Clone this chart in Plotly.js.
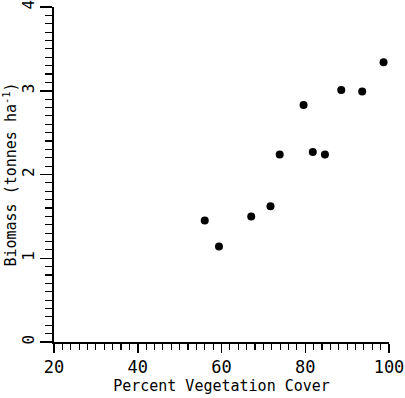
<!DOCTYPE html>
<html><head><meta charset="utf-8">
<script src="https://cdn.plot.ly/plotly-3.0.1.min.js"></script>
<style>html,body{margin:0;padding:0;background:#fff;}#chart{width:405px;height:398px;}</style>
</head><body><div id="chart"></div>
<script>
const cover = [56.0, 59.4, 67.1, 71.7, 73.9, 79.6, 81.8, 84.7, 88.6, 93.6, 98.7];
const biomass = [1.45, 1.14, 1.50, 1.62, 2.24, 2.83, 2.27, 2.24, 3.01, 2.99, 3.34];
const xTickVals = [20, 40, 60, 80, 100];
const yTickVals = [0, 1, 2, 3, 4];

const fontFam = 'DejaVu Sans Mono, monospace';
Plotly.newPlot('chart', [{
  x: cover, y: biomass, type: 'scatter', mode: 'markers',
  marker: {color: '#000', size: 8, symbol: 'circle'},
  hoverinfo: 'skip', cliponaxis: false
}], {
  width: 405, height: 398,
  margin: {l: 54, r: 16, t: 7, b: 56},
  paper_bgcolor: '#fff', plot_bgcolor: '#fff',
  showlegend: false,
  font: {family: fontFam, color: '#000', size: 15},
  xaxis: {
    range: [20, 100], tickvals: xTickVals, ticktext: xTickVals.map(String),
    showgrid: false, zeroline: false, showline: true, linecolor: '#000', linewidth: 2,
    ticks: 'outside', ticklen: 9, tickwidth: 1.5, tickcolor: '#000',
    tickfont: {size: 17, family: fontFam},
    ticklabelstandoff: 0,
    minor: {dtick: 2, ticks: 'outside', ticklen: 6, tickwidth: 1.2, tickcolor: '#000', showgrid: false},
    title: {text: 'Percent Vegetation Cover', font: {size: 15, family: fontFam}, standoff: 4}
  },
  yaxis: {
    range: [0, 4.0001], tickvals: yTickVals, ticktext: yTickVals.map(String),
    showgrid: false, zeroline: false, showline: true, linecolor: '#000', linewidth: 2,
    ticks: 'outside', ticklen: 12, tickwidth: 1.5, tickcolor: '#000',
    tickangle: -90, ticklabeloverflow: 'allow',
    tickfont: {size: 16, family: fontFam},
    minor: {dtick: 0.1, ticks: 'outside', ticklen: 7, tickwidth: 1.2, tickcolor: '#000', showgrid: false},
    title: {text: 'Biomass (tonnes ha<sup>-1</sup>)', font: {size: 15, family: fontFam}, standoff: 4}
  }
}, {staticPlot: true, displayModeBar: false});
</script></body></html>
